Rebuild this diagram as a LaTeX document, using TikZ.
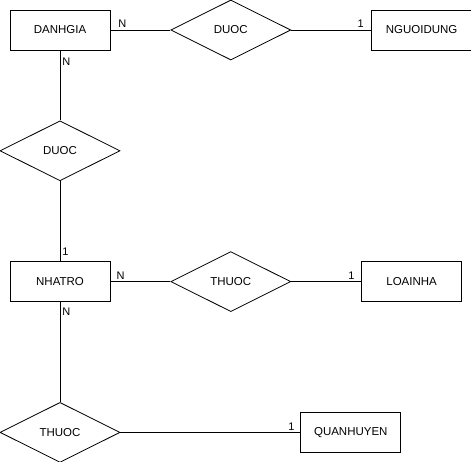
\documentclass[tikz,border=0pt]{standalone}
\usepackage{fontspec}
\setmainfont{Liberation Sans}
\usetikzlibrary{shapes.geometric}
\usetikzlibrary{positioning}

\begin{document}
\begin{tikzpicture}[-,line width=0.8pt,auto,
                    font=\fontsize{11.5}{13}\selectfont,
                    entity/.style={rectangle,draw,minimum width=100pt,minimum height=40pt,inner sep=0pt},
                    relation/.style={diamond,draw,minimum width=120pt,minimum height=60pt,inner sep=0pt,aspect=2},
                    card/.style={inner sep=2pt,font=\fontsize{11}{13}\selectfont}]

  \useasboundingbox (0,0) rectangle (471pt,-461pt);

  \node[entity] (danhgia) at (60pt,-30pt) {DANHGIA};
  \node[relation] (duoc1) [right=60pt of danhgia] {DUOC};
  \node[entity] (nguoidung) [right=80pt of duoc1] {NGUOIDUNG};
  \node[relation] (duoc2) [below=70pt of danhgia] {DUOC};
  \node[entity] (nhatro) [below=80pt of duoc2] {NHATRO};
  \node[relation] (thuoc1) [right=60pt of nhatro] {THUOC};
  \node[entity] (loainha) [right=70pt of thuoc1] {LOAINHA};
  \node[relation] (thuoc2) [below=100pt of nhatro] {THUOC};
  \node[entity] (quanhuyen) [right=180pt of thuoc2] {QUANHUYEN};

  \path[]
    (danhgia) edge node[card,pos=0.2,above] {N} (duoc1)
              edge node[card,pos=0.16,right] {N} (duoc2)
    (duoc1) edge node[card,pos=0.87,above] {1} (nguoidung)
    (duoc2) edge node[card,pos=0.88,right] {1} (nhatro)
    (nhatro) edge node[card,pos=0.17,above] {N} (thuoc1)
             edge node[card,pos=0.1,right] {N} (thuoc2)
    (thuoc1) edge node[card,pos=0.86,above] {1} (loainha)
    (thuoc2) edge node[card,pos=0.95,above] {1} (quanhuyen)
;
\end{tikzpicture}
\end{document}
